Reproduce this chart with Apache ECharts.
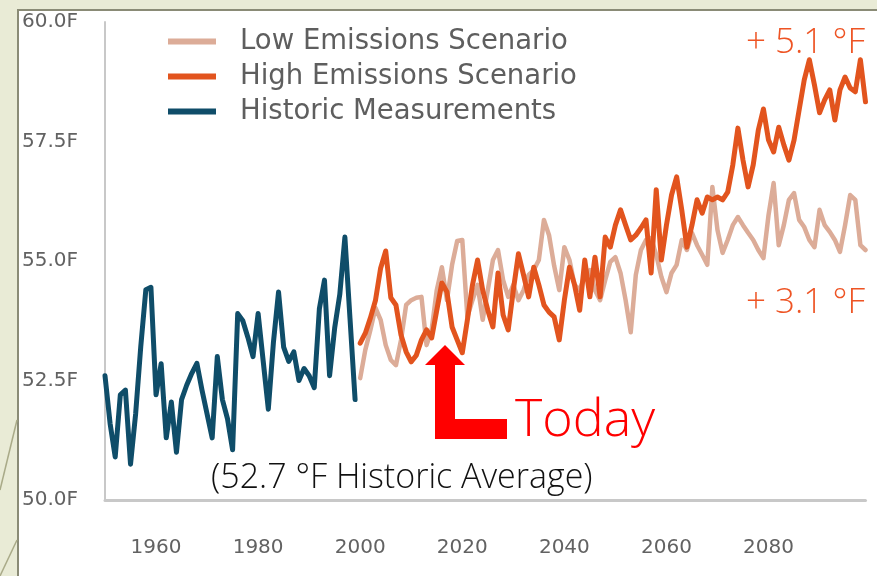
<!DOCTYPE html>
<html>
<head>
<meta charset="utf-8">
<script src="https://cdn.jsdelivr.net/npm/echarts@6/dist/echarts.min.js"></script>
<style>
html,body{margin:0;padding:0;background:#e9ebd6;}
#chart{width:877px;height:576px;}
</style>
</head>
<body>
<div id="chart"></div>
<script>
// ---- data ----
const seriesNames = ['Low Emissions Scenario', 'High Emissions Scenario', 'Historic Measurements'];
const historicStartYear = 1950;
const projectionStartYear = 2000;
const xTickLabels = [1960, 1980, 2000, 2020, 2040, 2060, 2080];
const yTicks = [50, 52.5, 55, 57.5, 60];

const historic = [
  52.6, 51.6, 50.9, 52.2, 52.3, 50.75, 51.8, 53.2, 54.4, 54.45,
  52.2, 52.85, 51.3, 52.05, 51.0, 52.1, 52.4, 52.65, 52.86, 52.3,
  51.8, 51.3, 53.0, 52.1, 51.7, 51.05, 53.9, 53.75, 53.4, 53.0,
  53.9, 52.9, 51.9, 53.3, 54.35, 53.2, 52.9, 53.1, 52.5, 52.75,
  52.6, 52.35, 54.0, 54.6, 52.6, 53.6, 54.3, 55.5, 53.8, 52.1
];

const highEmissions = [
  53.28, 53.49, 53.81, 54.18, 54.85, 55.21, 54.23, 54.08, 53.45, 53.10,
  52.89, 53.03, 53.35, 53.56, 53.39, 53.97, 54.54, 54.35, 53.62, 53.35,
  53.08, 53.77, 54.50, 55.02, 54.39, 53.97, 53.62, 54.75, 53.87, 53.56,
  54.39, 55.15, 54.71, 54.25, 54.87, 54.50, 54.08, 53.93, 53.83, 53.35,
  54.18, 54.87, 54.50, 53.97, 55.02, 54.25, 55.08, 54.25, 55.50, 55.29,
  55.75, 56.07, 55.75, 55.44, 55.54, 55.69, 55.86, 54.75, 56.49, 55.02,
  55.75, 56.38, 56.76, 56.07, 55.29, 55.75, 56.28, 56.00, 56.34, 56.28,
  56.34, 56.28, 56.44, 57.01, 57.78, 57.11, 56.55, 57.01, 57.74, 58.18,
  57.53, 57.28, 57.80, 57.43, 57.11, 57.53, 58.16, 58.79, 59.21, 58.68,
  58.10, 58.37, 58.58, 57.95, 58.58, 58.85, 58.62, 58.54, 59.21, 58.33
];

const lowEmissions = [
  52.55, 53.14, 53.56, 54.02, 53.77, 53.24, 52.93, 52.82, 53.35, 54.08,
  54.18, 54.23, 54.25, 53.24, 53.56, 54.39, 54.87, 54.18, 54.92, 55.42,
  55.44, 53.83, 54.18, 54.50, 53.77, 54.39, 55.02, 55.23, 54.60, 54.25,
  54.50, 54.18, 54.39, 54.71, 54.81, 55.02, 55.86, 55.54, 54.90, 54.39,
  55.29, 55.02, 54.50, 54.39, 54.71, 54.81, 54.39, 54.18, 54.60, 54.98,
  55.08, 54.75, 54.18, 53.51, 54.71, 55.23, 55.44, 55.48, 55.13, 54.67,
  54.35, 54.75, 54.92, 55.44, 55.23, 55.59, 55.33, 55.13, 54.92, 56.55,
  55.65, 55.17, 55.44, 55.75, 55.92, 55.75, 55.59, 55.44, 55.23, 55.06,
  55.96, 56.63, 55.33, 55.75, 56.28, 56.42, 55.86, 55.71, 55.44, 55.29,
  56.07, 55.75, 55.61, 55.44, 55.19, 55.75, 56.38, 56.28, 55.33, 55.23
];

const annotations = {
  high: '+ 5.1 °F',
  low: '+ 3.1 °F',
  today: 'Today',
  average: '(52.7 °F Historic Average)'
};

// ---- build ----
function pairs(startYear, values) {
  return values.map((v, i) => [startYear + i, v]);
}

const chart = echarts.init(document.getElementById('chart'), null, {renderer: 'canvas'});

const annoFont = '"Open Sans", "Noto Sans", sans-serif';

chart.setOption({
  animation: false,
  backgroundColor: '#e9ebd6',
  grid: {left: 105, right: 11.5, top: 22, bottom: 76, containLabel: false},
  legend: {
    orient: 'vertical',
    left: 163,
    top: 19,
    itemWidth: 48,
    itemHeight: 6,
    itemGap: 0,
    icon: 'rect',
    data: seriesNames,
    textStyle: {
      fontFamily: '"DejaVu Sans", sans-serif',
      fontSize: 27.5,
      color: '#5e5e5e',
      lineHeight: 35,
      padding: [0, 0, 0, 19]
    }
  },
  xAxis: {
    type: 'value',
    min: 1950,
    max: 2099,
    interval: 10,
    splitLine: {show: false},
    axisTick: {show: false},
    axisLine: {show: true, lineStyle: {color: '#c8c8c8', width: 3}},
    axisLabel: {
      customValues: xTickLabels,
      margin: 38,
      fontFamily: '"DejaVu Sans", sans-serif',
      fontSize: 20,
      color: '#626262',
      formatter: v => String(v)
    }
  },
  yAxis: {
    type: 'value',
    min: 50,
    max: 60,
    interval: 2.5,
    splitLine: {show: false},
    axisTick: {show: false},
    axisLine: {show: true, lineStyle: {color: '#c8c8c8', width: 2}},
    axisLabel: {
      margin: 27,
      fontFamily: '"DejaVu Sans", sans-serif',
      fontSize: 20,
      color: '#626262',
      formatter: v => v.toFixed(1) + 'F'
    }
  },
  series: [
    {
      name: seriesNames[0], type: 'line', data: pairs(projectionStartYear, lowEmissions),
      showSymbol: false, symbol: 'none', color: '#dcac98',
      lineStyle: {width: 4.5, color: '#dcac98', cap: 'round', join: 'round'}, z: 2
    },
    {
      name: seriesNames[1], type: 'line', data: pairs(projectionStartYear, highEmissions),
      showSymbol: false, symbol: 'none', color: '#e2541e',
      lineStyle: {width: 5, color: '#e2541e', cap: 'round', join: 'round'}, z: 3
    },
    {
      name: seriesNames[2], type: 'line', data: pairs(historicStartYear, historic),
      showSymbol: false, symbol: 'none', color: '#0f4d69',
      lineStyle: {width: 5, color: '#0f4d69', cap: 'round', join: 'round'}, z: 4
    }
  ],
  graphic: [
    {type: 'rect', z: -10, silent: true,
      shape: {x: 18, y: 10, width: 880, height: 580},
      style: {fill: '#ffffff', stroke: '#8a8b76', lineWidth: 2}},
    {type: 'line', z: -9, silent: true, shape: {x1: 0, y1: 490, x2: 17, y2: 420},
      style: {stroke: '#a9aa88', lineWidth: 1.5}},
    {type: 'line', z: -9, silent: true, shape: {x1: 0, y1: 576, x2: 17, y2: 540},
      style: {stroke: '#a9aa88', lineWidth: 1.5}},
    {type: 'polygon', z: 10, silent: true,
      shape: {points: [[425, 365], [445, 345], [465, 365], [455, 365], [455, 419], [507, 419], [507, 439], [435, 439], [435, 365]]},
      style: {fill: '#ff0000'}},
    {type: 'text', z: 10, silent: true, x: 865, y: 43,
      style: {text: annotations.high, fill: '#ee5424', font: '300 35px ' + annoFont, align: 'right', verticalAlign: 'middle'}},
    {type: 'text', z: 10, silent: true, x: 865, y: 303,
      style: {text: annotations.low, fill: '#ee5424', font: '300 35px ' + annoFont, align: 'right', verticalAlign: 'middle'}},
    {type: 'text', z: 10, silent: true, x: 515, y: 421,
      style: {text: annotations.today, fill: '#ff0000', font: '300 52px ' + annoFont, align: 'left', verticalAlign: 'middle'}},
    {type: 'text', z: 10, silent: true, x: 211, y: 478,
      style: {text: annotations.average, fill: '#111111', font: '300 34px ' + annoFont, align: 'left', verticalAlign: 'middle'}}
  ]
});
</script>
</body>
</html>
